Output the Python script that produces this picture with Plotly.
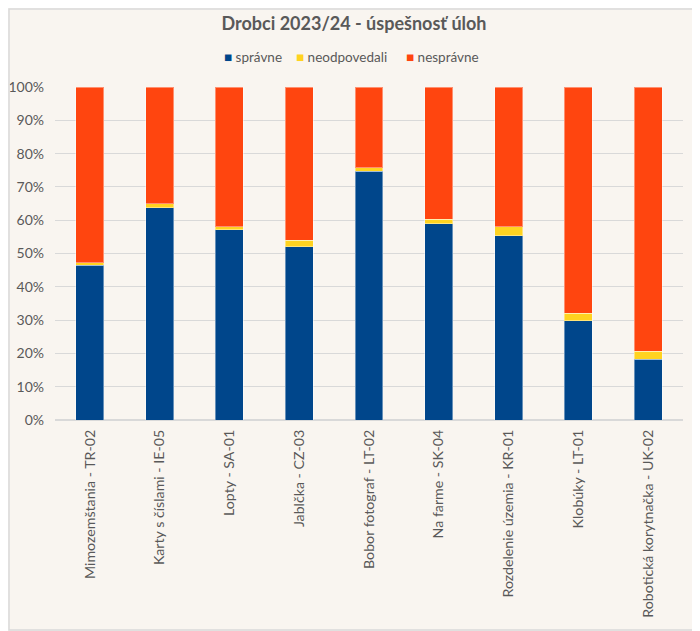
import plotly.graph_objects as go

# Úlohy a podiely odpovedí (v %)
ulohy = [
    "Mimozemštania - TR-02",
    "Karty s číslami - IE-05",
    "Lopty - SA-01",
    "Jablčka - CZ-03",
    "Bobor fotograf - LT-02",
    "Na farme - SK-04",
    "Rozdelenie územia - KR-01",
    "Klobúky - LT-01",
    "Robotická korytnačka - UK-02",
]
spravne = [46.4, 63.7, 57.1, 52.0, 74.7, 59.0, 55.4, 29.8, 18.3]
neodpovedali = [0.8, 1.2, 0.9, 2.0, 1.0, 1.3, 2.6, 2.2, 2.4]
nespravne = [52.8, 35.1, 42.0, 46.0, 24.3, 39.7, 42.0, 68.0, 79.3]

serie = ["správne", "neodpovedali", "nesprávne"]
farby = {"správne": "#00468B", "neodpovedali": "#FFD320", "nesprávne": "#FF450F"}
sivy_text = "#595959"

# stránka má okraj 8 px, preto je figúra o 8 px menšia
W, H = 692, 623
L, R, T, B = 47, 17, 79, 211
pw, ph = W - L - R, H - T - B

fig = go.Figure()
for nazov, hodnoty in zip(serie, [spravne, neodpovedali, nespravne]):
    fig.add_trace(go.Bar(
        x=ulohy,
        y=hodnoty,
        name=nazov,
        marker=dict(color=farby[nazov], line=dict(color="rgba(255,255,255,0.4)", width=1)),
        hovertemplate="%{x}<br>%{y:.1f}%<extra>" + nazov + "</extra>",
    ))

# legenda ako text (malé štvorčeky tesne pri texte)
legenda_x = [214, 286, 396]
for nazov, lx in zip(serie, legenda_x):
    fig.add_annotation(
        xref="paper", yref="paper",
        x=(lx - L) / pw, y=(412 - 49) / ph,
        xanchor="left", yanchor="middle", showarrow=False,
        text=f"<span style='color:{farby[nazov]}'>■</span> {nazov}",
        font=dict(size=13.5, color=sivy_text),
    )

fig.update_layout(
    width=W,
    height=H,
    barmode="stack",
    bargap=0.6,
    showlegend=False,
    paper_bgcolor="#F9F5F0",
    plot_bgcolor="#F9F5F0",
    font=dict(family="Lato, Open Sans, sans-serif", color=sivy_text, size=14),
    title=dict(
        text="<b>Drobci 2023/24 - úspešnosť úloh</b>",
        x=0.5, xanchor="center", y=1 - 16 / H, yanchor="middle",
        font=dict(size=18, color=sivy_text),
    ),
    margin=dict(l=L, r=R, t=T, b=B, autoexpand=False),
    xaxis=dict(
        automargin=False,
        tickangle=-90,
        tickfont=dict(size=14.2, color=sivy_text),
        showline=False,
        ticks="",
        ticklabelstandoff=6,
    ),
    yaxis=dict(
        automargin=False,
        range=[0, 100],
        dtick=10,
        ticksuffix="%",
        tickfont=dict(size=14, color=sivy_text),
        gridcolor="#D9D9D9",
        gridwidth=1,
        zeroline=True,
        zerolinecolor="#D9D9D9",
        showline=False,
        ticks="",
        ticklabelstandoff=10,
    ),
    shapes=[dict(
        type="rect", xref="paper", yref="paper",
        x0=-(L - 1) / pw, x1=1 + (R - 1) / pw, y0=-(B - 1) / ph, y1=1 + (T - 1) / ph,
        line=dict(color="#D9D9D9", width=1.5), fillcolor="rgba(0,0,0,0)",
    )],
)

fig.write_html("out.html")
